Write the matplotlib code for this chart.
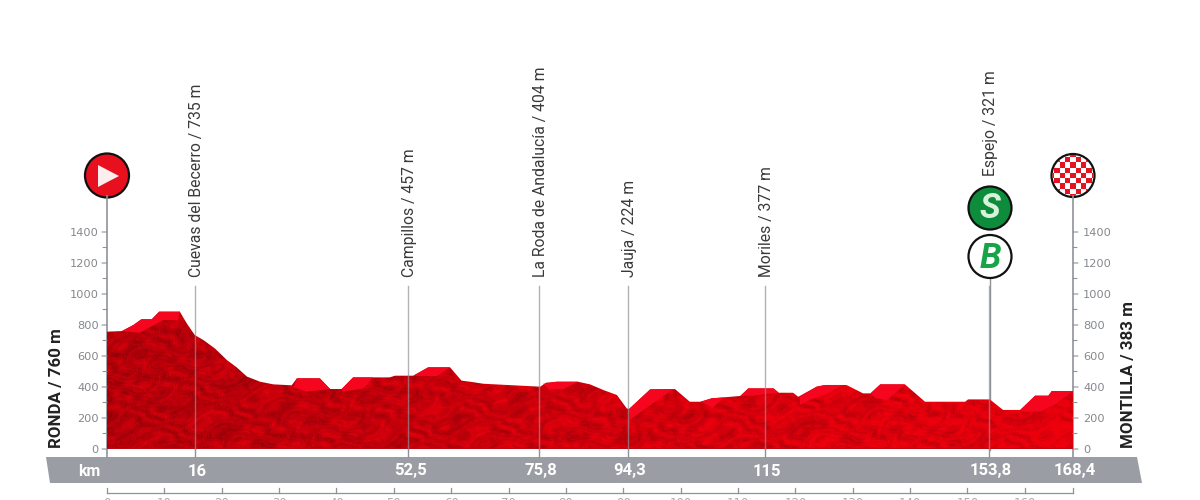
import matplotlib
matplotlib.use('Agg')
import matplotlib.pyplot as plt
import numpy as np
from matplotlib.patches import Polygon, Circle, Rectangle

# Stage data
km = [0, 2.6, 4.6, 6.0, 7.8, 9.1, 12.7, 13.9, 15.3, 16.8, 18.8, 20.9, 22.6, 24.4, 26.7, 29.0,
      32.2, 33.1, 37.1, 38.9, 40.9, 42.9, 49.3, 50.2, 53.4, 56.0, 59.8, 61.8, 63.3, 65.6, 75.5,
      76.6, 78.4, 82.1, 84.2, 86.5, 88.9, 90.6, 91.0, 94.7, 99.0, 101.6, 103.4, 105.4, 110.4,
      111.8, 116.2, 117.1, 119.6, 120.5, 123.7, 125.2, 128.9, 131.8, 133.1, 134.8, 139.1, 142.6,
      149.6, 150.1, 153.9, 156.2, 159.2, 161.8, 164.1, 164.7, 168.4]
elevation = [757, 761, 800, 837, 837, 886, 886, 811, 735, 703, 649, 574, 527, 467, 434, 417,
             411, 456, 456, 387, 387, 462, 462, 473, 473, 527, 527, 441, 434, 421, 402,
             428, 434, 434, 417, 381, 348, 262, 258, 385, 387, 305, 305, 327, 342,
             391, 391, 363, 363, 337, 402, 413, 413, 359, 359, 417, 417, 305,
             305, 320, 320, 252, 252, 344, 344, 374, 374]

# Bright faces under the climbs
facet_km = [
    [2.6, 4.6, 6.0, 7.8, 9.1, 12.7, 12.4, 9.8, 5.7],
    [32.5, 33.1, 37.1, 38.9, 34.8],
    [40.9, 42.9, 46.4, 44.7, 41.1],
    [53.4, 56.0, 59.8, 57.5, 54.5],
    [76.0, 78.4, 82.1, 79.5, 77.0],
    [91.0, 94.7, 99.0, 98.1, 91.1],
    [103.6, 105.4, 107.5, 105.6],
    [110.4, 111.8, 116.2, 117.1, 112.8],
    [120.8, 123.7, 125.2, 128.4, 125.0, 122.5, 120.8],
    [133.1, 134.8, 139.1, 136.0, 134.0],
    [159.2, 161.8, 164.1, 164.7, 168.4, 165.6, 162.7, 159.8],
]
facet_ele = [
    [761, 800, 837, 837, 886, 886, 832, 832, 750],
    [398, 456, 456, 387, 370],
    [387, 462, 462, 391, 370],
    [473, 527, 527, 470, 470],
    [420, 434, 434, 385, 385],
    [258, 385, 387, 370, 187],
    [305, 327, 332, 265],
    [342, 391, 391, 363, 345],
    [337, 402, 413, 413, 348, 316, 284],
    [359, 417, 417, 316, 327],
    [252, 344, 344, 374, 374, 295, 241, 241],
]

# Waypoints: drawn position, label, ruler text
way_km = [15.3, 52.5, 75.3, 90.8, 114.7, 153.8]
way_names = ['Cuevas del Becerro / 735 m', 'Campillos / 457 m', 'La Roda de Andalucía / 404 m',
             'Jauja / 224 m', 'Moriles / 377 m', 'Espejo / 321 m']
way_km_labels = ['16', '52,5', '75,8', '94,3', '115', '153,8']
end_km = 168.4
end_km_label = '168,4'

y_major = [0, 200, 400, 600, 800, 1000, 1200, 1400]
y_minor = [100, 300, 500, 700, 900, 1100, 1300]
ruler_km = [0, 10, 20, 30, 40, 50, 60, 70, 80, 90, 100, 110, 120, 130, 140, 150, 160, 168.4]
ruler_labels = ['0', '10', '20', '30', '40', '50', '60', '70', '80', '90', '100', '110', '120',
                '130', '140', '150', '160', '']

GRAY = '#8f9297'
BAND = '#9a9da3'

fig = plt.figure(figsize=(12, 5), dpi=100)
W, H = 1200, 500

# overlay in image pixels for the furniture
bg = fig.add_axes([0, 0, 1, 1])
bg.set_xlim(0, W)
bg.set_ylim(H, 0)
bg.axis('off')

# chart axes: 0-168.4 km = 107-1073 px, 0-1400 m = 449-232 px
ax = fig.add_axes([107 / W, 1 - 449 / H, 966 / W, 217 / H])
ax.patch.set_alpha(0)
ax.set_xlim(0, end_km)
ax.set_ylim(0, 1400)
for s in ax.spines.values():
    s.set_visible(False)
ax.set_xticks([])
ax.set_yticks([])

# Rock texture, just an image clipped by the outline
xx, yy = np.meshgrid(np.linspace(0, end_km, 966), np.linspace(0, 950, 150))
wx = xx + 2.5 * np.sin(yy * 0.021 + xx * 0.31) + 1.2 * np.sin(xx * 1.3 - yy * 0.04)
wy = yy + 45 * np.sin(xx * 0.43 + yy * 0.013)
tex = (np.sin(wx * 0.83 + wy * 0.033) * np.sin(wx * 0.29 - wy * 0.019)
       + 0.7 * np.sin(wx * 2.9 - wy * 0.081) * np.sin(wx * 1.7 + wy * 0.057)
       + 0.5 * np.sin(wx * 7.3 + wy * 0.21) * np.sin(wx * 4.1 - wy * 0.17))
shade = 0.76 + 0.2 * xx / end_km + 0.09 * tex
shade = np.clip(shade, 0.38, 1)
rgb = np.dstack([shade * 0.93, shade * 0.0, shade * 0.05])
im = ax.imshow(rgb, extent=[0, end_km, 0, 950], origin='lower', aspect='auto', zorder=2)
outline = Polygon(list(zip([0] + km + [end_km], [0] + elevation + [0])), closed=True,
                  transform=ax.transData, fc='none', ec='none')
ax.add_patch(outline)
im.set_clip_path(outline)
for fx, fy in zip(facet_km, facet_ele):
    ax.fill(fx, fy, color='#f5051e', lw=0, zorder=3)
ax.plot([0, end_km], [0, 0], color='#b80a18', lw=1.2, zorder=4)

# Waypoint lines
for x in way_km:
    ax.plot([x, x], [0, 1050], color=GRAY, lw=1, alpha=0.7, zorder=5, clip_on=False)
    ax.plot([x, x], [-52, 0], color=GRAY, lw=1, zorder=1, clip_on=False)
ax.plot([0, 0], [-52, 1630], color=GRAY, lw=1.2, zorder=1, clip_on=False)
ax.plot([end_km, end_km], [-52, 1630], color=GRAY, lw=1.2, zorder=1, clip_on=False)

# Waypoint names
for x, name in zip(way_km, way_names):
    bottom = 1108 if 'Espejo' not in name else 1760
    ax.text(x + 0.3, bottom, name, rotation=90, ha='center', va='bottom', fontsize=11.3,
            color='#3a3a3a', family=['Roboto', 'DejaVu Sans'], clip_on=False)

# Elevation scales
for side_x, ha, off in [(0, 'right', -8), (end_km, 'left', 10)]:
    for v in y_major:
        tick = -5 if side_x == 0 else 5
        ax.annotate('', xy=(side_x, v), xytext=(tick, 0), textcoords='offset pixels',
                    arrowprops=dict(arrowstyle='-', color=GRAY, lw=0.8, shrinkA=0, shrinkB=0))
        ax.annotate(str(v), xy=(side_x, v), xytext=(off, -1), textcoords='offset pixels',
                    ha=ha, va='center', fontsize=8.2, color='#85888c')
    for v in y_minor:
        tick = -4 if side_x == 0 else 4
        ax.annotate('', xy=(side_x, v), xytext=(tick, 0), textcoords='offset pixels',
                    arrowprops=dict(arrowstyle='-', color=GRAY, lw=0.8, shrinkA=0, shrinkB=0))

# km band
bg.add_patch(Polygon([(46, 457), (1137, 457), (1142, 483), (50, 483)], fc=BAND, ec='none', zorder=2))
bg.text(89, 471, 'km', color='white', fontsize=11.5, fontweight='bold', family='Roboto', ha='center', va='center')
for x, lab in zip(way_km + [end_km], way_km_labels + [end_km_label]):
    ax.annotate(lab, xy=(x, 0), xytext=(2, -22), textcoords='offset pixels', ha='center', va='center',
                color='white', fontsize=12, fontweight='bold', family='Roboto', annotation_clip=False, zorder=6)

# Distance ruler, its numbers run off the bottom edge as in the source image
for x, lab in zip(ruler_km, ruler_labels):
    px = 107 + x * 966 / end_km
    bg.plot([px, px], [488, 493], color=GRAY, lw=0.9)
    bg.text(px, 497, lab, ha='center', va='top', fontsize=8.5, color='#aaaaaa', clip_on=False)
bg.plot([107, 1073], [493, 493], color=GRAY, lw=0.9)

# Start and finish names
bg.text(57, 388, 'RONDA / 760 m', rotation=90, ha='center', va='center', fontsize=12.2,
        fontweight='bold', color='#222222', family='Roboto')
bg.text(1128, 375, 'MONTILLA / 383 m', rotation=90, ha='center', va='center', fontsize=12.2,
        fontweight='bold', color='#222222', family='Roboto')

# Markers
bg.add_patch(Circle((107, 175.5), 22, fc='#e8101e', ec='#111111', lw=1.6, zorder=5))
bg.add_patch(Polygon([(98, 165), (98, 187), (119, 176)], fc='#fbeeee', ec='none', zorder=6))

bg.add_patch(Circle((1073, 175.5), 21.5, fc='white', ec='#111111', lw=1.6, zorder=5))
clip = Circle((1073, 175.5), 20.5, transform=bg.transData)
for i in range(-4, 5):
    for j in range(-4, 5):
        if (i + j) % 2 == 0:
            r = Rectangle((1073 + i * 5.3 - 2.65, 175.5 + j * 5.3 - 2.65), 5.3, 5.3, fc='#e3141f', ec='none', zorder=6)
            bg.add_patch(r)
            r.set_clip_path(clip)

bg.add_patch(Circle((990, 208), 21.5, fc='#0d8c3c', ec='#111111', lw=1.6, zorder=5))
bg.text(990, 209, 'S', color='#d8f2da', fontsize=25, fontweight='bold', fontstyle='italic',
        ha='center', va='center', zorder=6, family='Roboto')
bg.add_patch(Circle((990, 256.5), 21.5, fc='white', ec='#111111', lw=1.6, zorder=5))
bg.text(990, 258, 'B', color='#17a348', fontsize=25, fontweight='bold', fontstyle='italic',
        ha='center', va='center', zorder=6, family='Roboto')
bg.plot([990, 990], [278, 450], color=GRAY, lw=1, zorder=1)

plt.savefig('out.png', dpi=100)
